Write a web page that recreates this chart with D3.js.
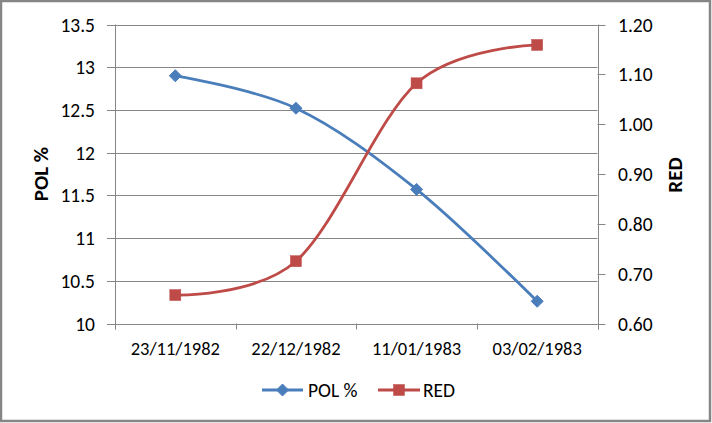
<!DOCTYPE html>
<html><head><meta charset="utf-8">
<script src="https://cdn.jsdelivr.net/npm/d3@7"></script>
<style>
body{margin:0;background:#fff;}
svg text{font-family:Carlito, Calibri, "Liberation Sans", sans-serif;fill:#000;}
</style></head>
<body><svg id="c" width="712" height="423"></svg>
<script>
const categories = ["23/11/1982","22/12/1982","11/01/1983","03/02/1983"];
const polValues = [12.90, 12.52, 11.57, 10.26];
const redValues = [0.657, 0.725, 1.082, 1.159];
const leftTicks = [10, 10.5, 11, 11.5, 12, 12.5, 13, 13.5];
const rightTicks = [0.60, 0.70, 0.80, 0.90, 1.00, 1.10, 1.20];

const svg = d3.select("#c");
const W = 712, H = 423;
const m = {l:115, r:597.5, t:24.5, b:323.5};
const grid = "#868686";

svg.append("rect").attr("x",1).attr("y",1).attr("width",W-3).attr("height",H-3)
  .attr("fill","#fff").attr("stroke",grid).attr("stroke-width",2.5);

const x = d3.scaleBand().domain(categories).range([m.l, m.r]);
const yL = d3.scaleLinear().domain([10, 13.5]).range([m.b, m.t]);
const yR = d3.scaleLinear().domain([0.6, 1.2]).range([m.b, m.t]);

// gridlines
svg.append("g").selectAll("line").data(leftTicks).join("line")
  .attr("x1", m.l-8).attr("x2", m.r).attr("y1", d=>Math.round(yL(d))+0.5).attr("y2", d=>Math.round(yL(d))+0.5)
  .attr("stroke", grid).attr("stroke-width",1);

// left axis labels
svg.append("g").selectAll("text").data(leftTicks).join("text")
  .attr("x", 95).attr("y", d=>yL(d)).attr("dy","0.36em").attr("text-anchor","end")
  .attr("font-size",19.5).text(d=>d3.format("")(d));

// left axis line
svg.append("line").attr("x1",m.l+0.5).attr("x2",m.l+0.5).attr("y1",m.t).attr("y2",m.b+6).attr("stroke",grid);
// right axis line
svg.append("line").attr("x1",Math.round(m.r)+0.5).attr("x2",Math.round(m.r)+0.5).attr("y1",m.t).attr("y2",m.b+6).attr("stroke",grid);
// right ticks
svg.append("g").selectAll("line").data(rightTicks).join("line")
  .attr("x1", m.r).attr("x2", m.r+8).attr("y1", d=>Math.round(yR(d))+0.5).attr("y2", d=>Math.round(yR(d))+0.5)
  .attr("stroke", grid);
svg.append("g").selectAll("text").data(rightTicks).join("text")
  .attr("x", 618).attr("y", d=>yR(d)).attr("dy","0.36em").attr("text-anchor","start")
  .attr("font-size",19.5).text(d=>d3.format(".2f")(d));

// category ticks
const bounds = categories.map(c=>x(c)).concat([m.r]);
svg.append("g").selectAll("line").data(bounds).join("line")
  .attr("x1", d=>Math.round(d)+0.5).attr("x2", d=>Math.round(d)+0.5).attr("y1", m.b).attr("y2", m.b+6)
  .attr("stroke", grid);
svg.append("g").selectAll("text").data(categories).join("text")
  .attr("x", d=>x(d)+x.bandwidth()/2).attr("y", 355).attr("text-anchor","middle")
  .attr("font-size",18.5).text(d=>d);

// axis titles
svg.append("text").attr("transform","translate(47.5,174) rotate(-90)").attr("text-anchor","middle")
  .attr("font-size",21).attr("font-weight","bold").text("POL %");
svg.append("text").attr("transform","translate(681.5,175) rotate(-90)").attr("text-anchor","middle")
  .attr("font-size",21).attr("font-weight","bold").text("RED");

const blue = "#4A7EBB", red = "#BE4B48";
const cx = d=>x(d)+x.bandwidth()/2;
const lineL = d3.line().x((d,i)=>cx(categories[i])).y(d=>yL(d)).curve(d3.curveCardinal.tension(0));
const lineR = d3.line().x((d,i)=>cx(categories[i])).y(d=>yR(d)).curve(d3.curveCardinal.tension(0));

svg.append("path").attr("d", lineL(polValues)).attr("fill","none").attr("stroke",blue).attr("stroke-width",2.8);
svg.append("path").attr("d", lineR(redValues)).attr("fill","none").attr("stroke",red).attr("stroke-width",2.8);

const diamond = (g, px, py) => g.append("path")
  .attr("d", `M${px},${py-6}L${px+6},${py}L${px},${py+6}L${px-6},${py}Z`).attr("fill",blue).attr("stroke",blue).attr("stroke-width",1);
const square = (g, px, py) => g.append("rect").attr("x",px-5.5).attr("y",py-5.5).attr("width",11).attr("height",11)
  .attr("fill",red).attr("stroke",red).attr("stroke-width",0.5);

const mk = svg.append("g");
polValues.forEach((v,i)=>diamond(mk, cx(categories[i]), yL(v)));
redValues.forEach((v,i)=>square(mk, cx(categories[i]), yR(v)));

// legend
const lg = svg.append("g");
const ly = 390;
lg.append("line").attr("x1",262).attr("x2",303).attr("y1",ly).attr("y2",ly).attr("stroke",blue).attr("stroke-width",2.8);
diamond(lg, 282.5, ly);
lg.append("text").attr("x",308).attr("y",ly).attr("dy","0.36em").attr("font-size",19.5).text("POL %");
lg.append("line").attr("x1",378).attr("x2",420).attr("y1",ly).attr("y2",ly).attr("stroke",red).attr("stroke-width",2.8);
square(lg, 399, ly);
lg.append("text").attr("x",423).attr("y",ly).attr("dy","0.36em").attr("font-size",19.5).text("RED");
</script></body></html>
